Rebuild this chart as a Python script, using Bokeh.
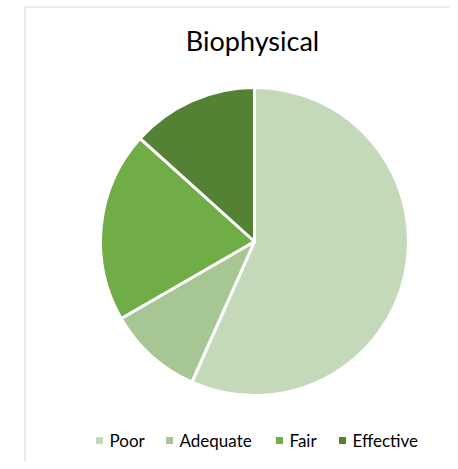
import numpy as np
from bokeh.plotting import figure
from bokeh.models import Range1d, ColumnDataSource
from bokeh.core.properties import value
from bokeh.embed import file_html
from bokeh.resources import INLINE

# ---- data ----
categories = ["Poor", "Adequate", "Fair", "Effective"]
counts = [17, 3, 6, 4]
colors = ["#C4D9BA", "#A6C793", "#70AD47", "#548235"]
title_text = "Biophysical"

# ---- layout (pixel-like data space) ----
W, H = 450, 461
CX, CY, R = 254, 220, 154

p = figure(width=W, height=H, output_backend="svg", toolbar_location=None,
           x_range=Range1d(0, W), y_range=Range1d(0, H), min_border=0)
p.axis.visible = False
p.grid.visible = False
p.outline_line_color = None
p.background_fill_color = "white"
p.border_fill_color = "white"

vals = np.array(counts, dtype=float)
frac = vals / vals.sum()
cum = np.concatenate([[0], np.cumsum(frac)])
start = np.pi / 2 - cum[:-1] * 2 * np.pi
end = np.pi / 2 - cum[1:] * 2 * np.pi

src = ColumnDataSource(dict(cat=categories, start=start, end=end, color=colors,
                            x=[CX] * len(categories), y=[CY] * len(categories)))
p.wedge(x="x", y="y", radius=R, start_angle="start", end_angle="end",
        direction="clock", fill_color="color", line_color="white", line_width=3,
        source=src)

# chart frame (left and top border)
p.segment(x0=[24.5, 24.5], y0=[0, 454.5], x1=[24.5, W], y1=[454.5, 454.5],
          line_color="#D9D9D9", line_width=1.2)

# title
p.text(x=[252], y=[421], text=[title_text], text_font=value("Lato"),
       text_font_size="27px", text_align="center", text_baseline="middle",
       text_color="#000000")

# legend
sq_x = [99, 169, 279, 342]
tx_x = [109, 179, 289, 352]
leg_y = 21
p.scatter(x=sq_x, y=[leg_y] * 4, marker="square", size=7, fill_color=colors,
          line_color=None)
p.text(x=tx_x, y=[leg_y] * 4, text=categories, text_font=value("Lato"),
       text_font_size="17px", text_align="left", text_baseline="middle",
       text_color="#000000")

open("out.html", "w").write(file_html(p, INLINE))
